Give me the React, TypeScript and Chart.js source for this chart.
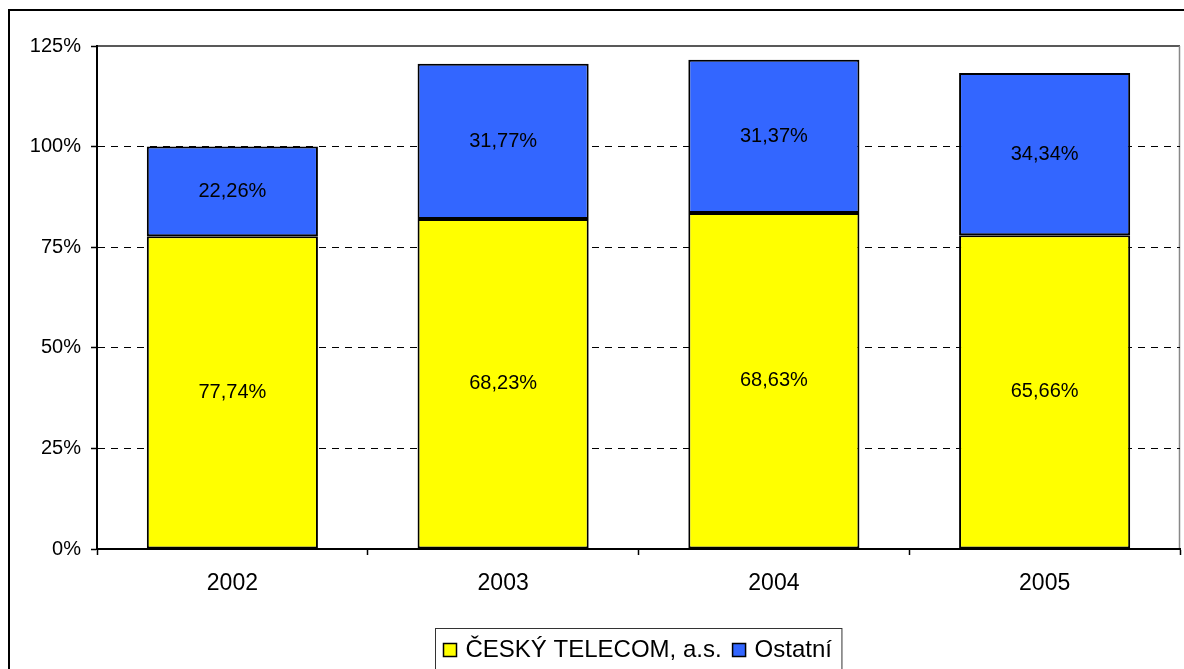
import React, { useEffect, useRef } from "react";
import { Chart, registerables } from "chart.js";

Chart.register(...registerables);

const categories = ["2002", "2003", "2004", "2005"];
const seriesNames = ["ČESKÝ TELECOM, a.s.", "Ostatní"];
const telecomValues = [77.74, 82.0, 83.5, 78.0];
const otherValues = [22.26, 38.6, 38.1, 40.3];
const telecomLabels = ["77,74%", "68,23%", "68,63%", "65,66%"];
const otherLabels = ["22,26%", "31,77%", "31,37%", "34,34%"];
const yMax = 125;
const yStep = 25;

const FONT = "'Liberation Sans', Arial, sans-serif";
const YELLOW = "#FFFF00";
const BLUE = "#3366FF";

const frameAndLabels = {
  id: "frameAndLabels",
  beforeDraw(chart: any) {
    const { ctx, chartArea } = chart;
    ctx.save();
    ctx.fillStyle = "#fff";
    ctx.fillRect(0, 0, chart.width, chart.height);
    // outer frame
    ctx.strokeStyle = "#000";
    ctx.lineWidth = 2;
    ctx.strokeRect(9, 10, chart.width + 20, chart.height + 20);
    // plot area top and right borders
    ctx.lineWidth = 1.5;
    ctx.strokeStyle = "#222";
    ctx.beginPath();
    ctx.moveTo(chartArea.left, chartArea.top);
    ctx.lineTo(chartArea.right, chartArea.top);
    ctx.stroke();
    ctx.strokeStyle = "#888";
    ctx.lineWidth = 1.5;
    ctx.beginPath();
    ctx.moveTo(chartArea.right - 0.5, chartArea.top);
    ctx.lineTo(chartArea.right - 0.5, chartArea.bottom);
    ctx.stroke();
    ctx.restore();
  },
  afterDatasetsDraw(chart: any) {
    const { ctx } = chart;
    const labelSets = [telecomLabels, otherLabels];
    ctx.save();
    ctx.font = `20px ${FONT}`;
    ctx.fillStyle = "#000";
    ctx.textAlign = "center";
    ctx.textBaseline = "middle";
    chart.data.datasets.forEach((ds: any, di: number) => {
      const meta = chart.getDatasetMeta(di);
      meta.data.forEach((el: any, i: number) => {
        const p = el.getProps(["x", "y", "base"], true);
        ctx.fillText(labelSets[di][i], p.x, (p.y + p.base) / 2);
      });
    });
    ctx.restore();
  },
  afterDraw(chart: any) {
    const { ctx, chartArea } = chart;
    const ds = chart.data.datasets;
    ctx.save();
    ctx.font = `24px ${FONT}`;
    const sq = 13;
    const padL = 8;
    const gapSq = 9;
    const gapItem = 11;
    const padR = 10;
    const widths = ds.map((d: any) => ctx.measureText(d.label).width);
    let total = padL + padR;
    widths.forEach((w: number, i: number) => {
      total += sq + gapSq + w + (i < widths.length - 1 ? gapItem : 0);
    });
    const cx = (chartArea.left + chartArea.right) / 2;
    const left = Math.round(cx - total / 2) + 0.5;
    const top = 628.5;
    ctx.strokeStyle = "#333";
    ctx.lineWidth = 1;
    ctx.fillStyle = "#fff";
    ctx.fillRect(left, top, total, 60);
    ctx.strokeRect(left, top, total, 60);
    let x = left + padL;
    ds.forEach((d: any, i: number) => {
      ctx.fillStyle = d.backgroundColor;
      ctx.fillRect(x, 643.5, sq, sq);
      ctx.strokeStyle = "#000";
      ctx.lineWidth = 1.5;
      ctx.strokeRect(x, 643.5, sq, sq);
      x += sq + gapSq;
      ctx.fillStyle = "#000";
      ctx.textAlign = "left";
      ctx.textBaseline = "alphabetic";
      ctx.fillText(d.label, x, 657);
      x += widths[i] + gapItem;
    });
    ctx.restore();
  },
};

export default function App() {
  const ref = useRef<HTMLCanvasElement | null>(null);
  useEffect(() => {
    if (!ref.current) return;
    const chart = new Chart(ref.current, {
      type: "bar",
      data: {
        labels: categories,
        datasets: [
          {
            label: seriesNames[0],
            data: telecomValues,
            backgroundColor: YELLOW,
            borderColor: "#000",
            borderWidth: 2,
            borderSkipped: false,
            barPercentage: 0.632,
            categoryPercentage: 1,
          },
          {
            label: seriesNames[1],
            data: otherValues,
            backgroundColor: BLUE,
            borderColor: "#000",
            borderWidth: 2,
            borderSkipped: false,
            barPercentage: 0.632,
            categoryPercentage: 1,
          },
        ],
      },
      options: {
        animation: false,
        responsive: false,
        devicePixelRatio: 1,
        layout: { padding: { left: 0, right: 4, top: 46, bottom: 0 } },
        plugins: {
          legend: { display: false },
          tooltip: { enabled: false },
          title: { display: false },
        },
        scales: {
          x: {
            stacked: true,
            offset: true,
            grid: {
              display: true,
              offset: true,
              drawOnChartArea: false,
              drawTicks: true,
              tickLength: 6,
              tickColor: "#000",
              tickWidth: 1.5,
            },
            border: { display: true, color: "#000", width: 2 },
            ticks: {
              color: "#000",
              font: { family: FONT, size: 23 },
              padding: 15,
              maxRotation: 0,
              autoSkip: false,
            },
            afterFit(scale: any) {
              scale.height = 120;
            },
          },
          y: {
            stacked: true,
            min: 0,
            max: yMax,
            grid: {
              display: true,
              drawOnChartArea: true,
              drawTicks: true,
              tickLength: 6,
              tickColor: "#000",
              tickWidth: 1.5,
              tickBorderDash: [],
              lineWidth: 1,
              color: (c: any) =>
                c.tick && (c.tick.value === 0 || c.tick.value === yMax) ? "rgba(0,0,0,0)" : "#000",
            },
            border: { display: true, color: "#000", width: 2, dash: [7, 6] },
            ticks: {
              stepSize: yStep,
              color: "#000",
              font: { family: FONT, size: 20 },
              padding: 10,
              callback: (v: any) => `${v}%`,
            },
            afterFit(scale: any) {
              scale.width = 97;
            },
          },
        },
      },
      plugins: [frameAndLabels],
    });
    return () => chart.destroy();
  }, []);
  return (
    <canvas
      ref={ref}
      width={1184}
      height={669}
      style={{ position: "fixed", left: 0, top: 0, width: 1184, height: 669 }}
    />
  );
}
